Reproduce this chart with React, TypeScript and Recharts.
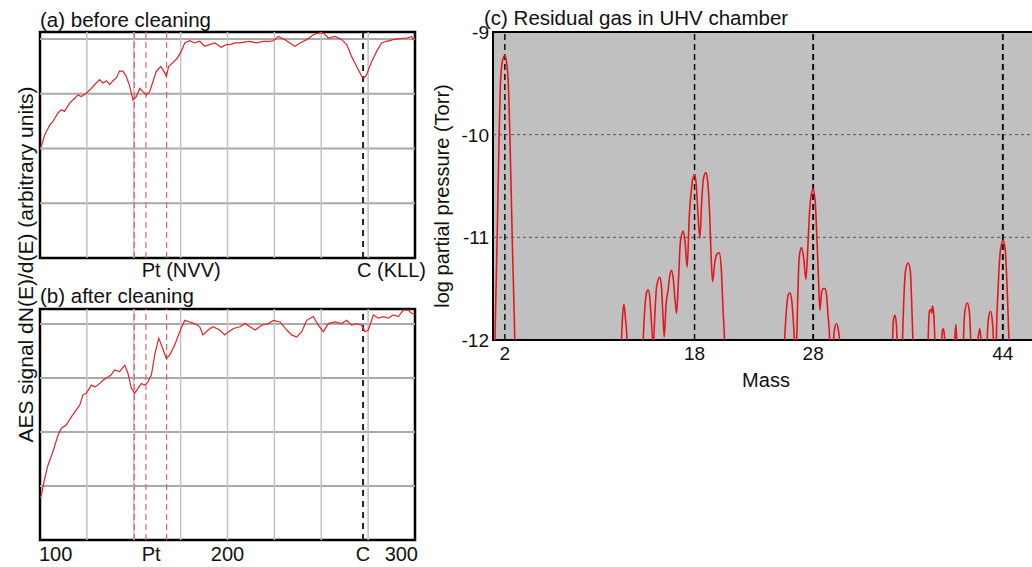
import React from 'react';
import { LineChart, Line, XAxis, YAxis, ReferenceLine, ReferenceArea } from 'recharts';

// ---------- (a) before cleaning ----------
const energyA = [100, 100.7, 102.5, 105.2, 107, 109.6, 111.4, 113.1, 115.8, 118.5, 120.3, 122, 124.7, 127.4, 129.2, 131.8, 133.6, 135.4, 137.2, 138.9, 140.7, 142.5, 144.3, 146, 147.8, 149.6, 151.4, 153.2, 154.9, 156.7, 158.5, 160.3, 162, 164.4, 166.1, 167.4, 168.6, 170.9, 173.2, 175.4, 177.2, 179.8, 182.5, 185.2, 187.8, 190.5, 193.2, 196.7, 199.4, 201.3, 204, 206.7, 209.5, 212, 215.6, 219.1, 222, 224.4, 227.1, 230.7, 233.3, 236, 238.7, 242.2, 245.8, 248.4, 251.1, 253.8, 257.3, 260.9, 263.6, 266.2, 268.9, 271.6, 272.8, 274.2, 276.9, 279.6, 282.2, 284.9, 288.4, 292, 295.6, 298.2, 299.1, 300];
const signalA = [2.02, 2.04, 2.25, 2.43, 2.5, 2.65, 2.71, 2.68, 2.83, 2.92, 2.98, 2.95, 3.01, 3.1, 3.17, 3.26, 3.2, 3.24, 3.17, 3.24, 3.29, 3.42, 3.41, 3.32, 3.14, 2.89, 2.95, 3.1, 3.04, 2.98, 3.04, 3.23, 3.41, 3.5, 3.41, 3.32, 3.5, 3.57, 3.65, 3.78, 3.93, 3.97, 3.93, 3.96, 3.87, 3.9, 3.93, 3.85, 3.9, 3.9, 3.93, 3.93, 3.95, 3.96, 3.93, 3.96, 3.96, 3.97, 4.05, 3.99, 3.93, 3.87, 3.93, 3.99, 4.08, 4.11, 4.11, 4.02, 4.05, 3.99, 3.9, 3.68, 3.5, 3.32, 3.29, 3.35, 3.59, 3.78, 3.93, 3.96, 3.99, 4.01, 4.02, 4.05, 3.99, 4.02];

// ---------- (b) after cleaning ----------
const energyB = [100, 100.7, 102.5, 104.3, 106.9, 109.6, 111.4, 114, 116.7, 119.4, 121.2, 122.9, 124.7, 127.4, 129.2, 130.9, 133.6, 136.3, 138, 139.8, 142.5, 145.2, 146.9, 148.7, 150.5, 152.3, 154, 155.8, 157.6, 159.4, 161.2, 163.3, 165.1, 167.4, 169.2, 171.8, 174.5, 177.2, 179.8, 182.5, 185.2, 186.9, 189.6, 192.3, 195.8, 198.5, 199.6, 203.1, 206.7, 209.3, 212, 214.7, 218.2, 221.8, 224.4, 228, 231.6, 234.2, 236.9, 239.6, 242.2, 245.8, 248.4, 251.1, 253.8, 257.3, 260.9, 263.6, 266.2, 268.9, 271.6, 273.3, 275.1, 277.8, 280.4, 283.1, 285.8, 288.4, 291.1, 293.8, 296.4, 298.2, 300];
const signalB = [0.78, 0.83, 1.14, 1.39, 1.64, 1.94, 2.07, 2.13, 2.28, 2.41, 2.5, 2.69, 2.72, 2.87, 2.84, 2.87, 2.96, 3.02, 3.06, 3.15, 3.12, 3.24, 3.09, 2.81, 2.72, 2.81, 2.9, 2.87, 2.93, 3.06, 3.43, 3.74, 3.58, 3.36, 3.43, 3.61, 3.86, 4.07, 4.04, 4.01, 3.95, 3.8, 3.89, 3.95, 3.89, 3.8, 3.83, 3.92, 3.95, 4.01, 3.95, 3.89, 3.98, 4.01, 4.07, 4.04, 3.89, 3.8, 3.76, 3.86, 4.07, 4.14, 3.98, 3.86, 4.01, 4.04, 4.01, 4.07, 3.98, 4.01, 3.98, 3.86, 3.89, 4.17, 4.11, 4.14, 4.11, 4.17, 4.14, 4.26, 4.26, 4.2, 4.18];

// ---------- (c) residual gas ----------
const massC = [1.0, 1.16, 1.35, 1.52, 1.64, 1.8, 2.0, 2.15, 2.28, 2.42, 2.62, 2.84, 2.95,
  11.7, 11.84, 11.92, 12.04, 12.16, 12.3, 12.4,
  13.55, 13.67, 13.8, 13.95, 14.09, 14.22, 14.35, 14.52, 14.65, 14.8, 15.07, 15.22, 15.35, 15.44,
  15.6, 15.77, 15.9, 16.06, 16.2, 16.35, 16.48, 16.65, 16.8, 17.04, 17.2, 17.38,
  17.55, 17.74, 17.85, 18.02, 18.15, 18.3, 18.45, 18.6, 18.75, 18.95, 19.1, 19.28, 19.4, 19.52,
  19.7, 19.85, 20.08, 20.25, 20.4, 20.55, 20.7,
  25.45, 25.6, 25.75, 25.9, 26.04, 26.2, 26.35, 26.46, 26.6, 26.7, 26.82, 27.02, 27.2, 27.39,
  27.55, 27.7, 27.85, 28.0, 28.15, 28.3, 28.45, 28.57, 28.7, 28.85, 28.99, 29.12, 29.25, 29.41, 29.5,
  29.65, 29.72, 29.8, 29.97, 30.12, 30.26, 30.35,
  34.6, 34.7, 34.78, 34.9, 35.0, 35.09, 35.2,
  35.45, 35.54, 35.65, 35.8, 36.02, 36.2, 36.3, 36.43, 36.55,
  37.6, 37.7, 37.8, 37.93, 38.0, 38.07, 38.17, 38.27, 38.35,
  38.8, 38.85, 38.92, 38.98, 39.05, 39.12, 39.2,
  39.9, 39.95, 40.04, 40.12, 40.2,
  40.6, 40.68, 40.8, 41.0, 41.15, 41.3, 41.4,
  41.85, 41.9, 41.98, 42.06, 42.12, 42.2, 42.3,
  42.6, 42.68, 42.8, 42.96, 43.1, 43.22, 43.3,
  43.38, 43.45, 43.6, 43.8, 44.02, 44.2, 44.38, 44.53, 44.65, 50];
const pressureC = [-12.6, -12, -11, -10, -9.47, -9.28, -9.23, -9.3, -9.47, -10, -11, -12, -12.6,
  -12.6, -12, -11.78, -11.65, -11.78, -12, -12.6,
  -12.6, -12, -11.7, -11.54, -11.51, -11.58, -11.8, -12.05, -11.75, -11.48, -11.39, -11.5, -11.8, -11.97,
  -11.65, -11.51, -11.38, -11.32, -11.4, -11.6, -11.74, -11.4, -11.05, -10.94, -11.05, -11.29,
  -10.8, -10.53, -10.43, -10.39, -10.5, -10.8, -11.01, -10.65, -10.43, -10.37, -10.45, -10.8, -11.2, -11.43,
  -11.25, -11.17, -11.15, -11.3, -11.7, -12.05, -12.6,
  -12.6, -12, -11.7, -11.56, -11.54, -11.62, -11.85, -12.05, -12.0, -11.6, -11.2, -11.1, -11.2, -11.41,
  -11.1, -10.75, -10.58, -10.53, -10.62, -10.95, -11.4, -11.71, -11.55, -11.5, -11.5, -11.55, -11.75, -12.05, -12.6,
  -12.6, -12, -11.9, -11.84, -11.9, -12.05, -12.6,
  -12.6, -12, -11.8, -11.76, -11.82, -12.05, -12.6,
  -12.6, -12, -11.6, -11.32, -11.25, -11.33, -11.6, -12.05, -12.6,
  -12.6, -12, -11.72, -11.7, -11.74, -11.67, -11.75, -12.05, -12.6,
  -12.6, -12, -11.9, -11.89, -11.93, -12.05, -12.6,
  -12.6, -12, -11.85, -12.05, -12.6,
  -12.6, -12, -11.72, -11.64, -11.7, -12.05, -12.6,
  -12.6, -12, -11.93, -11.89, -11.95, -12.05, -12.6,
  -12.6, -12, -11.78, -11.72, -11.8, -12.05, -12.6,
  -12.6, -12, -11.5, -11.12, -11.03, -11.12, -11.55, -12.05, -12.6, -12.6];

// ---------- ticks / markers ----------
const xTicksA = [175.3, 287.5];
const xTickLabelsA = ['Pt (NVV)', 'C (KLL)'];
const xTicksB = [100, 159.3, 200, 272.3, 300];
const xTickLabelsB = ['100', 'Pt', '200', 'C', '300'];
const ptLines = [150.3, 156.5, 167.5];
const cLine = 272.3;
const aesGridX = [125, 150, 175, 200, 225, 250, 275];
const aesGridY = [1, 2, 3, 4];
const massTicks = [2, 18, 28, 44];
const pressureTicks = [-12, -11, -10, -9];
const pressureGrid = [-11, -10];

const FONT = "'Liberation Sans', Arial, sans-serif";

const dataA = energyA.map((e, i) => ({ e, s: signalA[i] }));
const dataB = energyB.map((e, i) => ({ e, s: signalB[i] }));
const dataC = massC.map((m, i) => ({ m, p: pressureC[i] }));

const makeAesTick = (values: number[], labels: string[], dy: number) => (props: any) => {
  const { x, y, payload } = props;
  const i = values.indexOf(payload.value);
  const label = labels[i] ?? String(payload.value);
  let anchor: 'start' | 'middle' | 'end' = 'middle';
  let dx = 0;
  if (label === '100') { anchor = 'start'; dx = -1; }
  if (label === '300') { anchor = 'end'; dx = 3; }
  return (
    <text x={x + dx} y={y + dy} textAnchor={anchor} fontSize={20} fontFamily={FONT} fill="#111">
      {label}
    </text>
  );
};

const MassTick = (props: any) => {
  const { x, y, payload } = props;
  return (
    <text x={x} y={y + 20} textAnchor="middle" fontSize={19} fontFamily={FONT} fill="#111">
      {payload.value}
    </text>
  );
};

const PressureTick = (props: any) => {
  const { x, y, payload } = props;
  return (
    <text x={x - 4} y={y} dy="0.36em" textAnchor="end" fontSize={19} fontFamily={FONT} fill="#111">
      {payload.value}
    </text>
  );
};

function AesPanel({ data, top, height, marginTop, axisHeight, yMax, ticks, labels, tickDy }: any) {
  return (
    <div style={{ position: 'absolute', left: 0, top, width: 440, height }}>
      <LineChart width={440} height={height} data={data}
        margin={{ top: marginTop, right: 25, bottom: 0, left: 40 }}>
        <XAxis dataKey="e" type="number" domain={[100, 300]} allowDataOverflow
          ticks={ticks} interval={0} tickLine={false} axisLine={false}
          tickSize={0} tickMargin={0} height={axisHeight}
          tick={makeAesTick(ticks, labels, tickDy)} />
        <YAxis type="number" domain={[0, yMax]} allowDataOverflow hide width={0} />
        {aesGridY.map((v) => (
          <ReferenceLine key={'h' + v} y={v} stroke="#a9a9a9" strokeWidth={2} />
        ))}
        {aesGridX.map((v) => (
          <ReferenceLine key={'v' + v} x={v} stroke="#c2c2c2" strokeWidth={1.5} />
        ))}
        {ptLines.map((v) => (
          <ReferenceLine key={'pt' + v} x={v} stroke="#e8626b" strokeWidth={1.2} strokeDasharray="6 4" />
        ))}
        <ReferenceLine x={cLine} stroke="#222" strokeWidth={2} strokeDasharray="6 5" />
        <Line type="linear" dataKey="s" stroke="#e2232c" strokeWidth={1.2} dot={false}
          isAnimationActive={false} />
        <ReferenceArea x1={100} x2={300} y1={0} y2={yMax} fill="none" fillOpacity={0}
          stroke="#000" strokeWidth={2.5} />
      </LineChart>
    </div>
  );
}

export default function App() {
  return (
    <div style={{ position: 'absolute', left: 0, top: 0, width: 1032, height: 567, overflow: 'hidden', background: '#fff' }}>
      <AesPanel data={dataA} top={0} height={290} marginTop={32} axisHeight={32} yMax={4.13}
        ticks={xTicksA} labels={xTickLabelsA} tickDy={19} />
      <AesPanel data={dataB} top={280} height={287} marginTop={29} axisHeight={27} yMax={4.28}
        ticks={xTicksB} labels={xTickLabelsB} tickDy={21} />

      <div style={{ position: 'absolute', left: 430, top: 0, width: 644, height: 400 }}>
        <LineChart width={644} height={400} data={dataC}
          margin={{ top: 32, right: 0, bottom: 0, left: 0 }}>
          <XAxis dataKey="m" type="number" domain={[1, 50]} allowDataOverflow
            ticks={massTicks} interval={0} tickLine={false} axisLine={false}
            tickSize={0} tickMargin={0} height={60} tick={<MassTick />} />
          <YAxis type="number" domain={[-12, -9]} allowDataOverflow width={63}
            ticks={pressureTicks} interval={0} tickLine={false} axisLine={false}
            tickSize={0} tickMargin={0} tick={<PressureTick />} />
          <ReferenceArea x1={1} x2={50} y1={-12} y2={-9} fill="#c0c0c0" fillOpacity={1} stroke="none" />
          {pressureGrid.map((v) => (
            <ReferenceLine key={'pg' + v} y={v} stroke="#555" strokeWidth={1} strokeDasharray="3 3" />
          ))}
          {massTicks.map((v) => (
            <ReferenceLine key={'mg' + v} x={v} stroke="#111" strokeWidth={v >= 28 ? 2 : 1.5} strokeDasharray="6 4" />
          ))}
          <Line type="monotone" dataKey="p" stroke="#e8161c" strokeWidth={1.6} dot={false}
            isAnimationActive={false} />
          <ReferenceArea x1={1} x2={50} y1={-12} y2={-9} fill="none" fillOpacity={0}
            stroke="#000" strokeWidth={2} />
        </LineChart>
      </div>

      <svg width={1032} height={567} style={{ position: 'absolute', left: 0, top: 0, pointerEvents: 'none' }}
        fontFamily={FONT} fill="#111">
        <text x={40} y={26.5} fontSize={20.5}>(a) before cleaning</text>
        <text x={40} y={303} fontSize={20.5}>(b) after cleaning</text>
        <text x={484} y={24.5} fontSize={20.5}>(c) Residual gas in UHV chamber</text>
        <text transform="translate(33 264.5) rotate(-90)" textAnchor="middle" fontSize={21}>
          AES signal dN(E)/d(E) (arbitrary units)
        </text>
        <text transform="translate(449 196) rotate(-90)" textAnchor="middle" fontSize={20}>
          log partial pressure (Torr)
        </text>
        <text x={766} y={387} textAnchor="middle" fontSize={20}>Mass</text>
      </svg>
    </div>
  );
}
